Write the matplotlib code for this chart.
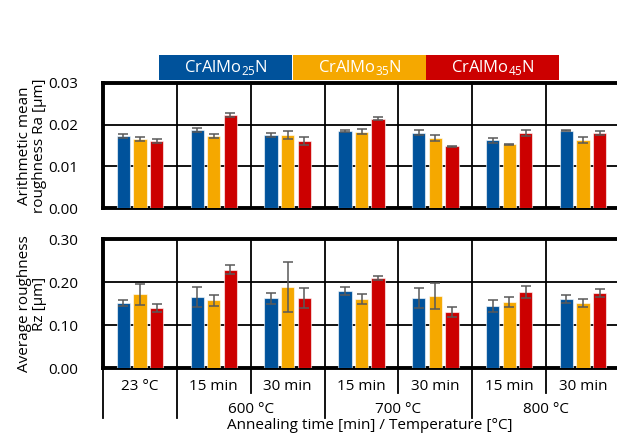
import matplotlib
matplotlib.use("Agg")
import matplotlib.pyplot as plt
import numpy as np
from matplotlib.patches import Rectangle
from matplotlib.lines import Line2D
import matplotlib.transforms as mtransforms

plt.rcParams['font.family'] = ['Open Sans', 'DejaVu Sans']
plt.rcParams['mathtext.fontset'] = 'custom'
plt.rcParams['mathtext.rm'] = 'Open Sans'

groups = ["23 °C", "15 min", "30 min", "15 min", "30 min", "15 min", "30 min"]
temps = ["600 °C", "700 °C", "800 °C"]
series = [r"CrAlMo$_{\mathregular{25}}$N", r"CrAlMo$_{\mathregular{35}}$N", r"CrAlMo$_{\mathregular{45}}$N"]
colors = ["#00529B", "#F5A800", "#CC0000"]

ra_25 = [0.0172, 0.0187, 0.0175, 0.0185, 0.0181, 0.0162, 0.0185]
ra_35 = [0.0165, 0.0173, 0.0175, 0.0183, 0.0168, 0.0153, 0.0164]
ra_45 = [0.0161, 0.0223, 0.0160, 0.0214, 0.0148, 0.0179, 0.0180]
ra_25_err = [0.0005, 0.0005, 0.00055, 0.00025, 0.00065, 0.0007, 0.0001]
ra_35_err = [0.00045, 0.0004, 0.001, 0.00055, 0.00075, 0.0001, 0.0007]
ra_45_err = [0.0004, 0.00055, 0.001, 0.0004, 0.0001, 0.0007, 0.0005]

rz_25 = [0.151, 0.165, 0.162, 0.179, 0.162, 0.144, 0.160]
rz_35 = [0.171, 0.157, 0.188, 0.160, 0.167, 0.153, 0.151]
rz_45 = [0.140, 0.229, 0.163, 0.209, 0.131, 0.177, 0.174]
rz_25_err = [0.006, 0.023, 0.012, 0.009, 0.023, 0.014, 0.009]
rz_35_err = [0.025, 0.013, 0.058, 0.011, 0.030, 0.011, 0.009]
rz_45_err = [0.010, 0.010, 0.024, 0.005, 0.012, 0.014, 0.009]

W, H = 617, 436
fig = plt.figure(figsize=(W/100, H/100), dpi=100)

def fx(px): return px / W
def fy(py): return 1 - py / H

ax1 = fig.add_axes([fx(103), fy(208), 517/W, 125/H])
ax2 = fig.add_axes([fx(103), fy(368), 517/W, 129/H])

x = np.arange(len(groups))
offs = [-0.225, 0, 0.225]
bw = 0.18

def draw(ax, vals, errs, ymax, step, fmt):
    for i, (v, e) in enumerate(zip(vals, errs)):
        ax.bar(x + offs[i], v, bw, color=colors[i], edgecolor=(1, 1, 1, 0.6), linewidth=0.8, zorder=3)
        ax.errorbar(x + offs[i], v, yerr=e, fmt='none', ecolor='#595959', elinewidth=1.1,
                    capsize=3.5, capthick=1.1, zorder=4)
    ax.set_xlim(-0.5, 6.5)
    ax.set_ylim(0, ymax)
    ticks = np.arange(0, ymax + step/2, step)
    ax.set_yticks(ticks)
    ax.set_yticklabels([fmt.format(t) for t in ticks], fontsize=11)
    ax.tick_params(axis='y', length=0, pad=18)
    ax.set_xticks([])
    for t in ticks[1:-1]:
        ax.axhline(t, color='black', lw=1.3, zorder=1)
    for b in np.arange(0.5, 6.5, 1):
        ax.axvline(b, color='black', lw=1.3, zorder=1)
    for s in ['left', 'top', 'bottom']:
        ax.spines[s].set_linewidth(2.8)
    ax.spines['right'].set_visible(False)

draw(ax1, [ra_25, ra_35, ra_45], [ra_25_err, ra_35_err, ra_45_err], 0.03, 0.01, "{:.2f}")
draw(ax2, [rz_25, rz_35, rz_45], [rz_25_err, rz_35_err, rz_45_err], 0.30, 0.10, "{:.2f}")

# category axis below bottom panel
tr = mtransforms.blended_transform_factory(ax2.transData, ax2.transAxes)
short_y = -(393 - 368) / 129
long_y = -(418 - 368) / 129
for b in [-0.5, 0.5, 2.5, 4.5]:
    ax2.add_line(Line2D([b, b], [0, long_y], transform=tr, color='black', lw=1.3, clip_on=False))
for b in [1.5, 3.5, 5.5]:
    ax2.add_line(Line2D([b, b], [0, short_y], transform=tr, color='black', lw=1.3, clip_on=False))
for i, g in enumerate(groups):
    ax2.text(i, -(386 - 368) / 129, g, transform=tr, ha='center', va='center', fontsize=11)
for j, t in enumerate(temps):
    ax2.text(1.5 + 2 * j, -(409 - 368) / 129, t, transform=tr, ha='center', va='center', fontsize=11)
fig.text(fx(370), fy(425), "Annealing time [min] / Temperature [°C]", ha='center', va='center', fontsize=11)

# y labels
fig.text(fx(32), fy(145.5), "Arithmetic mean\nroughness Ra [µm]", rotation=90,
         ha='center', va='center', fontsize=11, linespacing=1.0)
fig.text(fx(32), fy(303.5), "Average roughness\nRz [µm]", rotation=90,
         ha='center', va='center', fontsize=11, linespacing=1.0)

# legend
lx = [159, 293, 426]
for i in range(3):
    fig.patches.append(Rectangle((fx(lx[i]), fy(80)), 133/W, 25/H, transform=fig.transFigure,
                                 facecolor=colors[i], edgecolor='none'))
    fig.text(fx(lx[i] + 66.5), fy(67.5), series[i], ha='center', va='center',
             fontsize=12, color='white')

fig.savefig("out.png", dpi=100)
